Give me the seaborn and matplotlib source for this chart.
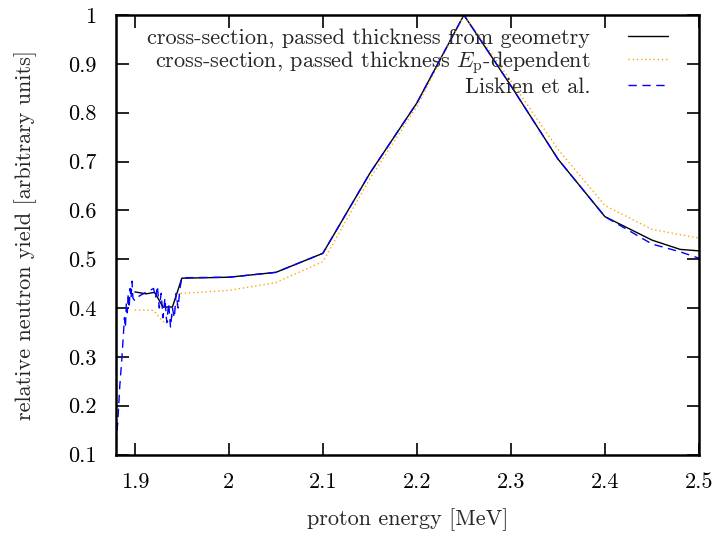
import matplotlib
matplotlib.use("Agg")
import matplotlib.pyplot as plt
import seaborn as sns
import pandas as pd

# ---- data ----
geom_x = [1.900, 1.912, 1.921, 1.930, 1.940, 1.950, 2.000, 2.050, 2.100, 2.150,
          2.200, 2.250, 2.300, 2.350, 2.400, 2.450, 2.480, 2.500]
geom_y = [0.433, 0.429, 0.432, 0.402, 0.402, 0.461, 0.463, 0.473, 0.512, 0.676,
          0.820, 1.000, 0.855, 0.705, 0.587, 0.539, 0.520, 0.517]

ep_x = [1.900, 1.920, 1.930, 1.938, 1.949, 2.000, 2.050, 2.100, 2.150, 2.200,
        2.250, 2.300, 2.350, 2.400, 2.450, 2.500]
ep_y = [0.396, 0.395, 0.372, 0.372, 0.430, 0.436, 0.452, 0.495, 0.665, 0.813,
        1.000, 0.865, 0.725, 0.610, 0.561, 0.543]

lis_x = [1.880, 1.882, 1.884, 1.886, 1.888, 1.889, 1.890, 1.891, 1.892, 1.893,
         1.894, 1.895, 1.896, 1.897, 1.898, 1.900, 1.905, 1.910, 1.915, 1.920,
         1.922, 1.924, 1.926, 1.928, 1.930, 1.932, 1.934, 1.936, 1.938, 1.940,
         1.942, 1.944, 1.946, 1.948, 1.950, 2.000, 2.050, 2.100, 2.150, 2.200,
         2.250, 2.300, 2.350, 2.400, 2.450, 2.480, 2.500]
lis_y = [0.120, 0.170, 0.240, 0.290, 0.350, 0.380, 0.360, 0.410, 0.390, 0.430,
         0.400, 0.440, 0.420, 0.455, 0.420, 0.415, 0.425, 0.430, 0.435, 0.440,
         0.420, 0.445, 0.400, 0.430, 0.380, 0.420, 0.370, 0.410, 0.360, 0.400,
         0.380, 0.430, 0.400, 0.440, 0.462, 0.463, 0.473, 0.512, 0.676, 0.820,
         1.000, 0.855, 0.705, 0.587, 0.531, 0.515, 0.502]

x_ticks = [1.9, 2.0, 2.1, 2.2, 2.3, 2.4, 2.5]
x_tick_labels = ["1.9", "2", "2.1", "2.2", "2.3", "2.4", "2.5"]
y_ticks = [0.1, 0.2, 0.3, 0.4, 0.5, 0.6, 0.7, 0.8, 0.9, 1.0]
y_tick_labels = ["0.1", "0.2", "0.3", "0.4", "0.5", "0.6", "0.7", "0.8", "0.9", "1"]

labels = ["cross-section, passed thickness from geometry",
          r"cross-section, passed thickness $E_\mathrm{p}$-dependent",
          "Liskien et al."]

# ---- style ----
sns.set_style("ticks")
plt.rcParams["font.family"] = ["cmr10", "DejaVu Serif"]
plt.rcParams["mathtext.fontset"] = "cm"
plt.rcParams["axes.formatter.use_mathtext"] = True

FS = 16
fig = plt.figure(figsize=(7.19, 5.33), dpi=100)
ax = fig.add_axes([116 / 719, (533 - 454.5) / 533, (699 - 116) / 719, (454.5 - 15) / 533])

df_g = pd.DataFrame({"x": geom_x, "y": geom_y})
df_e = pd.DataFrame({"x": ep_x, "y": ep_y})
df_l = pd.DataFrame({"x": lis_x, "y": lis_y})

sns.lineplot(data=df_g, x="x", y="y", ax=ax, color="black", lw=1.0,
             estimator=None, sort=False, label=labels[0])
sns.lineplot(data=df_e, x="x", y="y", ax=ax, color="#FFA500", lw=1.0,
             estimator=None, sort=False, label=labels[1], linestyle=(0, (1, 2)))
sns.lineplot(data=df_l, x="x", y="y", ax=ax, color="#0000FF", lw=1.0,
             estimator=None, sort=False, label=labels[2], linestyle=(0, (6, 4)))

ax.set_xlim(1.88, 2.5)
ax.set_ylim(0.1, 1.0)
ax.set_xticks(x_ticks)
ax.set_xticklabels(x_tick_labels)
ax.set_yticks(y_ticks)
ax.set_yticklabels(y_tick_labels)
ax.tick_params(axis="both", direction="in", length=9, width=1.2, top=True, right=True,
               labelsize=FS, colors="black")
ax.tick_params(axis="x", pad=13)
ax.tick_params(axis="y", pad=14)
for s in ax.spines.values():
    s.set_linewidth(1.8)
    s.set_color("black")

ax.set_xlabel("proton energy [MeV]", fontsize=FS, labelpad=12)
ax.set_ylabel("relative neutron yield [arbitrary units]", fontsize=FS, labelpad=22)

leg = ax.legend(loc="upper right", frameon=False, markerfirst=False, fontsize=FS,
                handlelength=1.8, borderpad=0, borderaxespad=0,
                bbox_to_anchor=((668 - 116) / 583, (454.5 - 28) / 439.5),
                labelspacing=0.05, handletextpad=1.7)
for t in leg.get_texts():
    t.set_ha("right")

fig.savefig("out.png", dpi=100)
